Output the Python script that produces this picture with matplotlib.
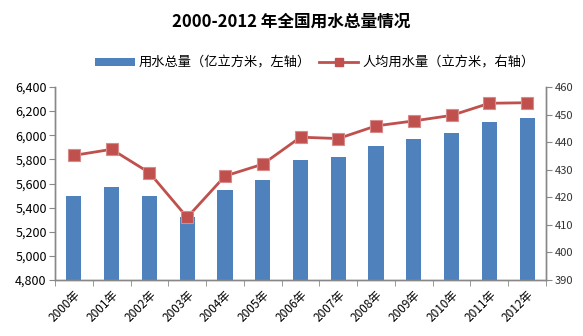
import matplotlib
matplotlib.use("Agg")
import matplotlib.pyplot as plt
import matplotlib.ticker as mticker
from matplotlib.lines import Line2D
import numpy as np

plt.rcParams['font.family'] = ['Noto Sans CJK SC', 'DejaVu Sans']

years = ["2000年", "2001年", "2002年", "2003年", "2004年", "2005年", "2006年",
         "2007年", "2008年", "2009年", "2010年", "2011年", "2012年"]
total_water = [5498, 5567, 5497, 5320, 5548, 5633, 5795, 5819, 5910, 5965, 6022, 6107, 6141]
per_capita = [435.2, 437.4, 428.9, 412.7, 427.7, 432.0, 441.8, 441.3, 445.9, 447.7, 449.7, 454.1, 454.3]

blue = "#4F81BD"
red = "#C0504D"
gray = "#888888"

fig = plt.figure(figsize=(5.83, 3.36), dpi=100)
ax = fig.add_axes([55/583, 56/336, (546-55)/583, (280-87)/336])
ax2 = ax.twinx()

x = np.arange(len(years))
b = ax.bar(x, total_water, width=0.4, color=blue, label="用水总量（亿立方米，左轴）", zorder=2)
l, = ax2.plot(x, per_capita, color=red, lw=2, marker='s', markersize=9,
              markerfacecolor=red, markeredgecolor="#D98A88", markeredgewidth=0.8,
              label="人均用水量（立方米，右轴）", zorder=3)

ax.set_xlim(-0.5, len(years) - 0.5)
ax.set_ylim(4800, 6400)
ax.yaxis.set_major_locator(mticker.MultipleLocator(200))
ax.yaxis.set_major_formatter(mticker.FuncFormatter(lambda v, p: f"{int(v):,}"))
ax2.set_ylim(390, 460)
ax2.yaxis.set_major_locator(mticker.MultipleLocator(10))

ax.set_xticks(x)
ax.set_xticklabels(years, rotation=45, ha='right', rotation_mode='anchor', fontsize=8.5)
ax.tick_params(axis='x', which='major', length=0, pad=6)
ax.set_xticks(np.arange(-0.5, len(years), 1.0), minor=True)
ax.tick_params(axis='x', which='minor', length=4, color=gray, direction='out')

ax.tick_params(axis='y', labelsize=9, length=4, color=gray, pad=2)
ax2.tick_params(axis='y', labelsize=8, length=4, color=gray, pad=2, labelcolor="#333333")

for a in (ax, ax2):
    a.spines['top'].set_visible(False)
    for s in ('left', 'right', 'bottom'):
        a.spines[s].set_color(gray)
        a.spines[s].set_linewidth(1)

ax.set_zorder(ax2.get_zorder() - 1)
ax2.patch.set_visible(False)

fig.suptitle("2000-2012 年全国用水总量情况", y=1 - 22/336, va='center',
             fontsize=12, fontweight='bold')

leg_line = Line2D([], [], color=red, lw=2, marker='s', markersize=6,
                  markerfacecolor=red, markeredgecolor=red)
fig.legend([b, leg_line], [b.get_label(), l.get_label()], loc='center',
           bbox_to_anchor=(0.54, 1 - 63/336), ncol=2, frameon=False, fontsize=9.5,
           handlelength=3, handleheight=0.5, columnspacing=0.6, handletextpad=0.3)

fig.savefig("out.png", dpi=100)
